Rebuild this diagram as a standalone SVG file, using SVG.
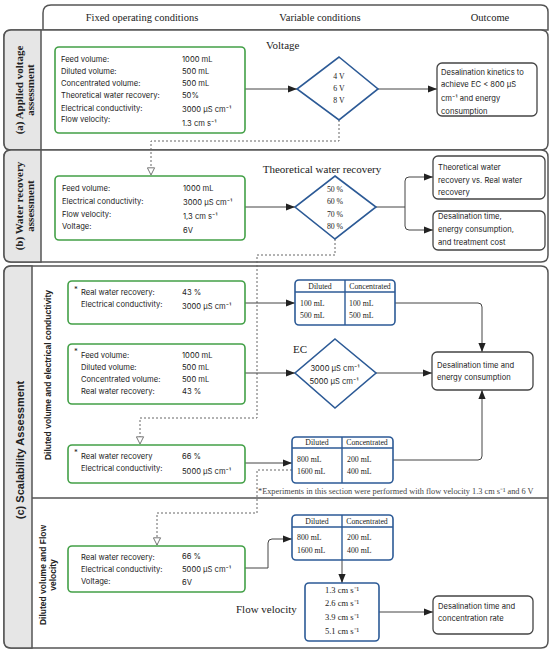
<svg xmlns="http://www.w3.org/2000/svg" width="550" height="650" viewBox="0 0 550 650">
<defs>
<style>
.sec{fill:#fff;stroke:#555;stroke-width:1.5}
.tab{fill:#e6e6e6;stroke:#555;stroke-width:1.5}
.hdr{font-family:"Liberation Serif",serif;font-size:10.5px;fill:#222}
.lbl{font-family:"Liberation Serif",serif;font-size:11px;fill:#222}
.tabt{font-family:"Liberation Serif",serif;font-size:11px;font-weight:bold;fill:#222}
.tabs{font-family:"Liberation Sans",sans-serif;font-size:11px;font-weight:bold;fill:#222}
.sub{font-family:"Liberation Sans",sans-serif;font-size:8.5px;font-weight:bold;fill:#222}
.green{fill:#fff;stroke:#43a047;stroke-width:1.6}
.blue{fill:#fff;stroke:#2c5a96;stroke-width:1.6}
.out{fill:#fff;stroke:#444;stroke-width:1.3}
.t{font-family:Inter,"Liberation Sans",sans-serif;font-size:7.6px;fill:#222}
.s{font-family:"Liberation Serif",serif;font-size:7.8px;fill:#222}
.v{font-family:"Liberation Serif",serif;font-size:8.5px;fill:#222}
.fn{font-family:"Liberation Serif",serif;font-size:8.3px;fill:#444}
.mid{text-anchor:middle}
.ln{fill:none;stroke:#444;stroke-width:1}
.dash{fill:none;stroke:#666;stroke-width:1;stroke-dasharray:2,2}
</style>
<marker id="ah" viewBox="0 0 10 10" refX="10" refY="5" markerWidth="9" markerHeight="9" orient="auto" markerUnits="userSpaceOnUse"><path d="M0,1 L10,5 L0,9 z" fill="#222"/></marker>
<marker id="oh" viewBox="0 0 10 10" refX="9" refY="5" markerWidth="9" markerHeight="9" orient="auto" markerUnits="userSpaceOnUse"><path d="M1,1 L9,5 L1,9 z" fill="#fff" stroke="#666" stroke-width="1"/></marker>
</defs>
<rect width="550" height="650" fill="#fff"/>

<g id="header">
<path class="sec" d="M51,5 H541 Q548,5 548,12 V30 H43 V13 Q43,5 51,5 Z"/>
<text class="hdr mid" x="142" y="21">Fixed operating conditions</text>
<text class="hdr mid" x="320" y="21">Variable conditions</text>
<text class="hdr mid" x="490" y="21">Outcome</text>
</g>

<g id="section-a">
<path class="sec" d="M11,30 H541 Q548,30 548,37 V143 Q548,150 541,150 H11 Q4,150 4,143 V37 Q4,30 11,30 Z"/>
<path class="tab" d="M11,30 H41 V150 H11 Q4,150 4,143 V37 Q4,30 11,30 Z"/>
<g transform="translate(23,90) rotate(-90)"><text class="tabt mid" x="0" y="0">(a) Applied voltage</text><text class="tabt mid" x="0" y="11">assessment</text></g>
</g>
<g id="section-b">
<path class="sec" d="M11,150 H541 Q548,150 548,157 V255 Q548,262 541,262 H11 Q4,262 4,255 V157 Q4,150 11,150 Z"/>
<path class="tab" d="M11,150 H41 V262 H11 Q4,262 4,255 V157 Q4,150 11,150 Z"/>
<g transform="translate(23,206) rotate(-90)"><text class="tabt mid" x="0" y="0">(b) Water recovery</text><text class="tabt mid" x="0" y="11">assessment</text></g>
</g>
<g id="section-c">
<path class="sec" d="M11,266 H541 Q548,266 548,273 V641 Q548,648 541,648 H11 Q4,648 4,641 V273 Q4,266 11,266 Z"/>
<path class="tab" d="M11,266 H32 V648 H11 Q4,648 4,641 V273 Q4,266 11,266 Z"/>
<line x1="32" y1="498" x2="548" y2="498" stroke="#555" stroke-width="1.5"/>
<g transform="translate(24,450) rotate(-90)"><text class="tabs mid">(c) Scalability Assessment</text></g>
<g transform="translate(51,375) rotate(-90)"><text class="sub mid">Diluted volume and electrical conductivity</text></g>
<g transform="translate(46,575) rotate(-90)"><text class="sub mid" x="0" y="0">Diluted volume and Flow</text><text class="sub mid" x="0" y="10">velocity</text></g>
</g>

<g id="connectors">
<line class="ln" x1="245" y1="89" x2="297" y2="89" marker-end="url(#ah)"/>
<line class="ln" x1="378" y1="89" x2="437" y2="89" marker-end="url(#ah)"/>
<path class="dash" d="M339,120 V141 H151 V175" marker-end="url(#oh)"/>
<line class="ln" x1="245" y1="207" x2="295" y2="207" marker-end="url(#ah)"/>
<path class="ln" d="M376,207 H405"/>
<path class="ln" d="M405,207 V181 Q405,177 409,177 H433" marker-end="url(#ah)"/>
<path class="ln" d="M405,207 V226 Q405,230 409,230 H433" marker-end="url(#ah)"/>
<path class="dash" d="M335,239 V255 H257 V418 H140 V444" marker-end="url(#oh)"/>
<line class="ln" x1="245" y1="303" x2="295" y2="303" marker-end="url(#ah)"/>
<path class="ln" d="M395,303 H478 Q482,303 482,307 V352" marker-end="url(#ah)"/>
<line class="ln" x1="245" y1="373" x2="295" y2="373" marker-end="url(#ah)"/>
<line class="ln" x1="376" y1="373" x2="432" y2="373" marker-end="url(#ah)"/>
<line class="ln" x1="245" y1="463" x2="292" y2="463" marker-end="url(#ah)"/>
<path class="ln" d="M393,460 H478 Q482,460 482,456 V390" marker-end="url(#ah)"/>
<path class="dash" d="M292,470 H257 V513 H157 V545" marker-end="url(#oh)"/>
<path class="ln" d="M245,568 H268 V543 Q268,539 272,539 H292" marker-end="url(#ah)"/>
<line class="ln" x1="342" y1="560" x2="342" y2="583" marker-end="url(#ah)"/>
<line class="ln" x1="379" y1="612" x2="433" y2="612" marker-end="url(#ah)"/>
</g>

<g id="fixed-a">
<rect class="green" x="55" y="47" width="190" height="86" rx="4"/>
<text class="t" x="61" y="62">Feed volume:</text><text class="t" x="182" y="62">1000 mL</text>
<text class="t" x="61" y="74">Diluted volume:</text><text class="t" x="182" y="74">500 mL</text>
<text class="t" x="61" y="86">Concentrated volume:</text><text class="t" x="182" y="86">500 mL</text>
<text class="t" x="61" y="98">Theoretical water recovery:</text><text class="t" x="182" y="98">50%</text>
<text class="t" x="61" y="111">Electrical conductivity:</text><text class="t" x="182" y="112">3000 µS cm⁻¹</text>
<text class="t" x="61" y="122">Flow velocity:</text><text class="t" x="182" y="126">1.3 cm s⁻¹</text>
</g>
<g id="voltage">
<text class="lbl" x="266" y="49">Voltage</text>
<polygon class="blue" points="339,57 378,89 339,120 297,89"/>
<text class="s mid" x="339" y="79">4 V</text>
<text class="s mid" x="339" y="91">6 V</text>
<text class="s mid" x="339" y="103">8 V</text>
</g>
<g id="outcome-a">
<rect class="out" x="437" y="63" width="100" height="53" rx="5"/>
<text class="t" x="441" y="75">Desalination kinetics to</text>
<text class="t" x="441" y="87">achieve EC &lt; 800 µS</text>
<text class="t" x="441" y="101">cm⁻¹ and energy</text>
<text class="t" x="441" y="114">consumption</text>
</g>

<g id="fixed-b">
<rect class="green" x="55" y="176" width="190" height="64" rx="4"/>
<text class="t" x="62" y="191">Feed volume:</text><text class="t" x="183" y="191">1000 mL</text>
<text class="t" x="62" y="204">Electrical conductivity:</text><text class="t" x="183" y="205">3000 µS cm⁻¹</text>
<text class="t" x="62" y="217">Flow velocity:</text><text class="t" x="183" y="219">1,3 cm s⁻¹</text>
<text class="t" x="62" y="229">Voltage:</text><text class="t" x="183" y="233">6V</text>
</g>
<g id="recovery">
<text class="lbl mid" x="322" y="173">Theoretical water recovery</text>
<polygon class="blue" points="335,176 376,207 335,239 295,207"/>
<text class="s mid" x="335" y="192">50 %</text>
<text class="s mid" x="335" y="204">60 %</text>
<text class="s mid" x="335" y="217">70 %</text>
<text class="s mid" x="335" y="229">80 %</text>
</g>
<g id="outcome-b1">
<rect class="out" x="433" y="156" width="112" height="43" rx="5"/>
<text class="t" x="438" y="170">Theoretical water</text>
<text class="t" x="438" y="183">recovery vs. Real water</text>
<text class="t" x="438" y="195">recovery</text>
</g>
<g id="outcome-b2">
<rect class="out" x="433" y="211" width="112" height="39" rx="5"/>
<text class="t" x="438" y="219">Desalination time,</text>
<text class="t" x="438" y="232">energy consumption,</text>
<text class="t" x="438" y="245">and treatment cost</text>
</g>

<g id="fixed-c1">
<rect class="green" x="68" y="281" width="177" height="43" rx="4"/>
<text class="t" x="74" y="292">*</text>
<text class="t" x="81" y="295">Real water recovery:</text><text class="t" x="182" y="295">43 %</text>
<text class="t" x="81" y="307">Electrical conductivity:</text><text class="t" x="182" y="309">3000 µS cm⁻¹</text>
</g>
<g id="table-c1">
<rect class="blue" x="295" y="280" width="100" height="45" rx="4"/>
<line x1="295" y1="292" x2="395" y2="292" stroke="#2c5a96" stroke-width="1.4"/>
<line x1="345" y1="280" x2="345" y2="325" stroke="#2c5a96" stroke-width="1.4"/>
<text class="s mid" x="320" y="289">Diluted</text><text class="s mid" x="370" y="289">Concentrated</text>
<text class="s" x="300" y="306">100 mL</text><text class="s" x="349" y="306">100 mL</text>
<text class="s" x="300" y="318">500 mL</text><text class="s" x="349" y="318">500 mL</text>
</g>
<g id="fixed-c2">
<rect class="green" x="68" y="344" width="177" height="60" rx="4"/>
<text class="t" x="74" y="354">*</text>
<text class="t" x="81" y="358">Feed volume:</text><text class="t" x="182" y="358">1000 mL</text>
<text class="t" x="81" y="370">Diluted volume:</text><text class="t" x="182" y="370">500 mL</text>
<text class="t" x="81" y="382">Concentrated volume:</text><text class="t" x="182" y="382">500 mL</text>
<text class="t" x="81" y="394">Real water recovery:</text><text class="t" x="182" y="394">43 %</text>
</g>
<g id="ec">
<text class="lbl" x="293" y="353">EC</text>
<polygon class="blue" points="335,339 376,373 335,408 295,373"/>
<text class="t mid" x="335" y="371">3000 µS cm⁻¹</text>
<text class="t mid" x="334" y="384">5000 µS cm⁻¹</text>
</g>
<g id="outcome-c1">
<rect class="out" x="432" y="352" width="101" height="38" rx="5"/>
<text class="t" x="437" y="368">Desalination time and</text>
<text class="t" x="437" y="380">energy consumption</text>
</g>
<g id="fixed-c3">
<rect class="green" x="68" y="445" width="177" height="38" rx="4"/>
<text class="t" x="74" y="455">*</text>
<text class="t" x="81" y="459">Real water recovery</text><text class="t" x="182" y="459">66 %</text>
<text class="t" x="81" y="471">Electrical conductivity:</text><text class="t" x="182" y="474">5000 µS cm⁻¹</text>
</g>
<g id="table-c2">
<rect class="blue" x="292" y="437" width="101" height="46" rx="4"/>
<line x1="292" y1="448" x2="393" y2="448" stroke="#2c5a96" stroke-width="1.4"/>
<line x1="342" y1="437" x2="342" y2="483" stroke="#2c5a96" stroke-width="1.4"/>
<text class="s mid" x="317" y="445">Diluted</text><text class="s mid" x="367" y="445">Concentrated</text>
<text class="s" x="297" y="462">800 mL</text><text class="s" x="347" y="462">200 mL</text>
<text class="s" x="297" y="474">1600 mL</text><text class="s" x="347" y="474">400 mL</text>
</g>
<text class="fn" x="258" y="494">*Experiments in this section were performed with flow velocity 1.3 cm s⁻¹ and 6 V</text>

<g id="fixed-c4">
<rect class="green" x="68" y="546" width="177" height="46" rx="4"/>
<text class="t" x="81" y="560">Real water recovery:</text><text class="t" x="182" y="559">66 %</text>
<text class="t" x="81" y="572">Electrical conductivity:</text><text class="t" x="182" y="572">5000 µS cm⁻¹</text>
<text class="t" x="81" y="584">Voltage:</text><text class="t" x="182" y="585">6V</text>
</g>
<g id="table-c3">
<rect class="blue" x="292" y="515" width="101" height="45" rx="4"/>
<line x1="292" y1="527" x2="393" y2="527" stroke="#2c5a96" stroke-width="1.4"/>
<line x1="342" y1="515" x2="342" y2="560" stroke="#2c5a96" stroke-width="1.4"/>
<text class="s mid" x="317" y="524">Diluted</text><text class="s mid" x="367" y="524">Concentrated</text>
<text class="s" x="297" y="540">800 mL</text><text class="s" x="347" y="540">200 mL</text>
<text class="s" x="297" y="553">1600 mL</text><text class="s" x="347" y="553">400 mL</text>
</g>
<g id="flow-velocity">
<text class="lbl" x="236" y="613">Flow velocity</text>
<rect class="blue" x="305" y="583" width="74" height="58" rx="4"/>
<text class="v mid" x="342" y="593">1.3 cm s⁻¹</text>
<text class="v mid" x="342" y="606">2.6 cm s⁻¹</text>
<text class="v mid" x="342" y="620">3.9 cm s⁻¹</text>
<text class="v mid" x="342" y="634">5.1 cm s⁻¹</text>
</g>
<g id="outcome-c2">
<rect class="out" x="433" y="596" width="100" height="38" rx="5"/>
<text class="t" x="438" y="609">Desalination time and</text>
<text class="t" x="438" y="621">concentration rate</text>
</g>
</svg>
